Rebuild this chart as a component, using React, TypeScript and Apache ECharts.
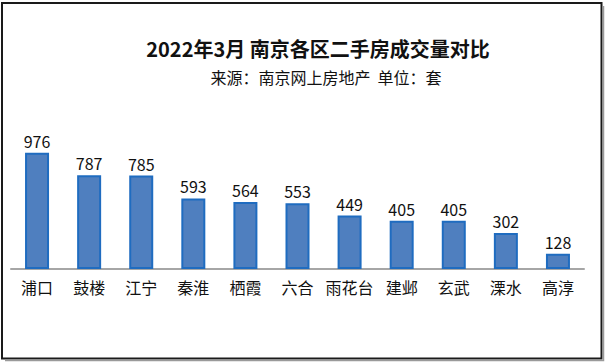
import React, { useEffect, useRef } from "react";
import * as echarts from "echarts";

const categories = ["浦口", "鼓楼", "江宁", "秦淮", "栖霞", "六合", "雨花台", "建邺", "玄武", "溧水", "高淳"];
const volumes = [976, 787, 785, 593, 564, 553, 449, 405, 405, 302, 128];
const titleText = "2022年3月 南京各区二手房成交量对比";
const subtitleText = "来源：南京网上房地产  单位：套";

const FONT = '"Microsoft YaHei","Noto Sans CJK SC","Noto Sans",sans-serif';

export default function App() {
  const ref = useRef<HTMLDivElement>(null);
  useEffect(() => {
    document.body.style.margin = "0";
    const chart = echarts.init(ref.current!, undefined, { renderer: "svg" });
    chart.setOption({
      animation: false,
      backgroundColor: "#ffffff",
      grid: { left: 11, right: 23, top: 150, bottom: 95, containLabel: false },
      xAxis: {
        type: "category",
        data: categories,
        axisLine: { show: true, lineStyle: { color: "#a6a6a6", width: 2 } },
        axisTick: { show: false },
        axisLabel: { fontSize: 16, color: "#111", margin: 10, fontFamily: FONT, interval: 0 },
      },
      yAxis: {
        type: "value",
        min: 0,
        max: 1000,
        show: false,
        splitLine: { show: false },
      },
      series: [
        {
          type: "bar",
          data: volumes,
          barWidth: 24,
          itemStyle: { color: "#4f7fbf", borderColor: "#1f6cc0", borderWidth: 2 },
          label: {
            show: true,
            position: "top",
            distance: 4,
            fontSize: 16,
            color: "#111",
            fontFamily: FONT,
          },
        },
      ],
      graphic: [
        {
          type: "rect",
          shape: { x: 2, y: 3, width: 599.5, height: 355.5 },
          style: { fill: "none", stroke: "#1a1a1a", lineWidth: 2 },
          silent: true,
        },
        {
          type: "polyline",
          shape: { points: [[603.5, 6], [603.5, 360.5], [5, 360.5]] },
          style: { stroke: "#9a9a9a", lineWidth: 1.5, fill: "none" },
          silent: true,
        },
        {
          type: "text",
          x: 318,
          y: 48,
          style: {
            text: titleText,
            fontSize: 20,
            fontWeight: "bold",
            fill: "#111",
            fontFamily: FONT,
            textAlign: "center",
            textVerticalAlign: "middle",
          },
        },
        {
          type: "text",
          x: 326,
          y: 77,
          style: {
            text: subtitleText,
            fontSize: 16,
            fill: "#111",
            fontFamily: FONT,
            textAlign: "center",
            textVerticalAlign: "middle",
          },
        },
      ],
    });
    return () => chart.dispose();
  }, []);
  return <div ref={ref} style={{ width: 607, height: 364 }} />;
}
